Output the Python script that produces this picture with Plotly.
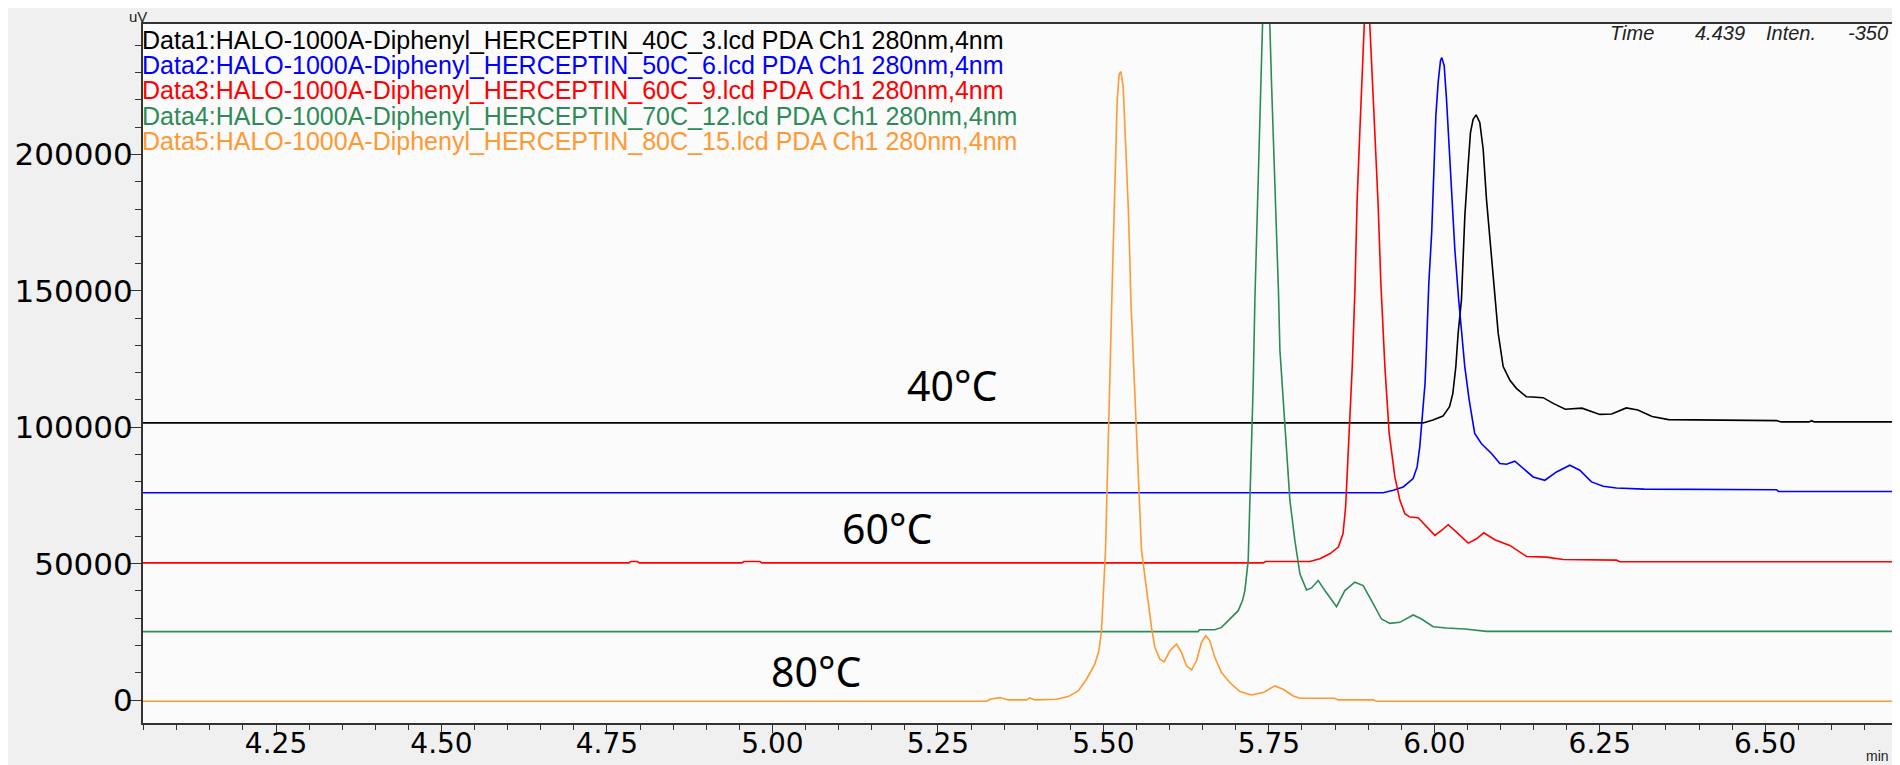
import plotly.graph_objects as go

# ---- data (time in min, intensity in uV) ----
t1 = [4.040, 5.983, 5.998, 6.013, 6.023, 6.028, 6.0325, 6.036, 6.041, 6.0461, 6.051, 6.0546, 6.0586, 6.0632, 6.0687,
      6.0738, 6.0788, 6.0838, 6.0914, 6.0965, 6.104, 6.114, 6.124, 6.139, 6.1476, 6.1645, 6.1796, 6.1978, 6.223, 6.250,
      6.268, 6.290, 6.3075, 6.329, 6.354, 6.517, 6.524, 6.566, 6.570, 6.574, 6.71]
v1 = [101600, 101600, 102630, 104100, 107540, 112440, 122240, 134490, 146750, 177380, 195760, 208010, 212900, 214510, 211690,
      201890, 183510, 168800, 146750, 134490, 122240, 117340, 114270, 111210, 111100, 110850, 108760, 106600, 107000, 104720,
      104850, 107100, 106350, 103920, 102820, 102450, 101970, 101970, 102400, 101970, 101970]

t2 = [4.040, 5.9228, 5.938, 5.953, 5.968, 5.974, 5.978, 5.982, 5.986, 5.988, 5.9917, 5.996, 5.9993, 6.0023, 6.0058, 6.0093,
      6.0113, 6.0149, 6.0184, 6.0219, 6.0259, 6.031, 6.0368, 6.041, 6.046, 6.0527, 6.061, 6.071, 6.0864, 6.099, 6.109, 6.1216,
      6.1342, 6.1493, 6.167, 6.1846, 6.2047, 6.2198, 6.2375, 6.255, 6.2752, 6.317, 6.517, 6.52, 6.71]
v2 = [76000, 76000, 76900, 78130, 81190, 85480, 92830, 103860, 116120, 128370, 152880, 171250, 195760, 214140, 226390, 234360,
      235460, 232520, 220270, 205560, 187180, 165130, 146750, 134490, 122240, 109990, 97740, 94060, 90380, 86710, 86460, 87560,
      84870, 81810, 80580, 83640, 86100, 84260, 79970, 78370, 77760, 77340, 77100, 76490, 76490]

t3 = [4.040, 4.783, 4.786, 4.796, 4.799, 4.954, 4.957, 4.981, 4.984, 5.7415, 5.745, 5.812, 5.827, 5.842, 5.855, 5.862, 5.866,
      5.869, 5.8725, 5.876, 5.880, 5.8834, 5.8874, 5.8910, 5.8935, 5.898, 5.9026, 5.9061, 5.9101, 5.9152, 5.9192, 5.9253,
      5.9318, 5.9404, 5.948, 5.9555, 5.963, 5.9756, 5.9882, 6.0008, 6.0109, 6.021, 6.0335, 6.0512, 6.0638, 6.0748, 6.0914,
      6.1141, 6.1393, 6.1695, 6.1947, 6.2752, 6.2802, 6.71]
v3 = [50300, 50300, 50800, 50800, 50300, 50300, 50800, 50800, 50300, 50300, 50800, 50800, 51790, 53630, 56080, 60970, 70770,
      85480, 103860, 122240, 150000, 183510, 208010, 228840, 247220, 270000, 247220, 226390, 208010, 181060, 152880, 122240,
      97740, 81810, 73230, 68330, 67100, 66860, 63430, 60370, 62200, 64290, 61590, 57550, 59140, 61340, 58770,
      56690, 52640, 52400, 51540, 51300, 50690, 50690]

t4 = [4.040, 5.6432, 5.645, 5.6684, 5.6785, 5.691, 5.7037, 5.7102, 5.7137, 5.7188, 5.7213, 5.7239, 5.7264, 5.7289, 5.7324,
      5.7354, 5.7374, 5.7404, 5.746, 5.7515, 5.754, 5.7576, 5.7616, 5.7646, 5.7667, 5.7717, 5.7767, 5.7818, 5.7893, 5.7969,
      5.8069, 5.8145, 5.8246, 5.8346, 5.8523, 5.8648, 5.8799, 5.8925, 5.9051, 5.9202, 5.9328, 5.9479, 5.968, 5.9807, 5.9983,
      6.0184, 6.046, 6.0789, 6.71]
v4 = [25100, 25100, 25800, 25800, 26660, 29730, 32790, 36470, 40000, 51170, 73230, 91610, 116120, 146750, 177380,
      208010, 228840, 247220, 268000, 247220, 226390, 201890, 171250, 149200, 128370, 109990, 91610, 73230, 58520, 46270,
      40390, 41120, 43820, 40150, 34260, 40150, 43210, 41980, 36470, 29730, 28140, 28510, 31200, 29730, 26910,
      26420, 26050, 25200, 25200]

t5 = [4.040, 5.3235, 5.3285, 5.3436, 5.3562, 5.384, 5.389, 5.3965, 5.4292, 5.4468, 5.462, 5.4745, 5.487, 5.4932, 5.4972,
      5.4997, 5.5012, 5.5032, 5.5134, 5.5164, 5.5184, 5.5209, 5.5239, 5.5264, 5.5300, 5.5325, 5.5350, 5.5375, 5.5400, 5.5415,
      5.5576, 5.5652, 5.5727, 5.5778, 5.5853, 5.5919, 5.6004, 5.6105, 5.618, 5.6256, 5.6332, 5.6407, 5.6482, 5.6548, 5.6608,
      5.6684, 5.6785, 5.691, 5.7062, 5.7238, 5.7414, 5.7590, 5.7716, 5.7868, 5.7968, 5.8497, 5.8547, 5.9076, 5.9127, 6.71]
v5 = [-400, -400, 320, 930, 80, 80, 810, 80, 320, 1300, 3380, 7670, 13190, 18090, 25440,
      36470, 47500, 54850, 152880, 177380, 201890, 220270, 229460, 230320, 224560, 211690, 195760, 181060, 161450, 146750,
      54850, 40140, 26660, 19310, 15020, 14040, 18090, 20540, 17470, 12570, 11100, 14410, 21150, 23600, 21760,
      15640, 10120, 6450, 3140, 1910, 2770, 5220, 4000, 1550, 690, 690, 80, 80, -400, -400]

names = [
    "Data1:HALO-1000A-Diphenyl_HERCEPTIN_40C_3.lcd PDA Ch1 280nm,4nm",
    "Data2:HALO-1000A-Diphenyl_HERCEPTIN_50C_6.lcd PDA Ch1 280nm,4nm",
    "Data3:HALO-1000A-Diphenyl_HERCEPTIN_60C_9.lcd PDA Ch1 280nm,4nm",
    "Data4:HALO-1000A-Diphenyl_HERCEPTIN_70C_12.lcd PDA Ch1 280nm,4nm",
    "Data5:HALO-1000A-Diphenyl_HERCEPTIN_80C_15.lcd PDA Ch1 280nm,4nm",
]
colors = ["#000000", "#0000ff", "#ff0000", "#2e8b57", "#ff9933"]
series = [(t1, v1), (t2, v2), (t3, v3), (t4, v4), (t5, v5)]

temp_labels = ["40°C", "60°C", "80°C"]
temp_x = [5.271, 5.173, 5.066]
temp_y = [115650, 62930, 10730]

x_range = [4.049, 6.693]
y_range = [-8380, 247800]

fig = go.Figure()
for (tt, vv), c, n in zip(series, colors, names):
    fig.add_trace(go.Scatter(x=tt, y=vv, mode="lines", name=n,
                             line=dict(color=c, width=1.6), showlegend=False))

ann = []
leg_y = [0.9771, 0.9410, 0.9050, 0.8689, 0.8329]
for n, c, yy in zip(names, colors, leg_y):
    ann.append(dict(xref="paper", yref="paper", x=-0.002, y=yy, xanchor="left", yanchor="middle",
                    text=n, showarrow=False, font=dict(family="Liberation Sans", size=25, color=c)))
for s, xx, yy in zip(temp_labels, temp_x, temp_y):
    ann.append(dict(x=xx, y=yy, text=s, showarrow=False, xanchor="center", yanchor="middle",
                    font=dict(family="Noto Sans", size=41, color="#000000")))
info_font = dict(family="Liberation Sans", size=20, color="#222222")
info_y = 0.9876
ann.append(dict(xref="paper", yref="paper", x=0.8371, y=info_y, xanchor="left", yanchor="middle",
                text="<i>Time</i>", showarrow=False, font=info_font))
ann.append(dict(xref="paper", yref="paper", x=0.8857, y=info_y, xanchor="left", yanchor="middle",
                text="<i>4.439</i>", showarrow=False, font=info_font))
ann.append(dict(xref="paper", yref="paper", x=0.9265, y=info_y, xanchor="left", yanchor="middle",
                text="<i>Inten.</i>", showarrow=False, font=info_font))
ann.append(dict(xref="paper", yref="paper", x=0.9983, y=info_y, xanchor="right", yanchor="middle",
                text="<i>-350</i>", showarrow=False, font=info_font))
ann.append(dict(xref="paper", yref="paper", x=-0.003, y=1.011, xanchor="center", yanchor="middle",
                text="uV", showarrow=False, font=dict(family="Liberation Sans", size=15, color="#222222")))
ann.append(dict(xref="paper", yref="paper", x=0.991, y=-0.047, xanchor="center", yanchor="middle",
                text="min", showarrow=False, font=dict(family="Liberation Sans", size=14, color="#222222")))

# the page body adds an 8 px offset, so the figure is sized to fit the 1900x765 window
fig.update_layout(
    width=1892, height=757,
    margin=dict(l=135, r=7, t=16, b=42, autoexpand=False),
    paper_bgcolor="#f0f0f0", plot_bgcolor="#fbfbfb",
    annotations=ann,
    xaxis=dict(range=x_range, tick0=4.25, dtick=0.25, tickformat=".2f", showgrid=False, zeroline=False,
               automargin=False, ticklabelstandoff=-14,
               showline=True, linecolor="#333333", linewidth=2, mirror=True,
               ticks="outside", ticklen=8, tickcolor="#333333",
               minor=dict(dtick=0.05, tick0=4.0, ticks="outside", ticklen=5, tickcolor="#333333"),
               tickfont=dict(family="DejaVu Sans", size=28, color="#000000")),
    yaxis=dict(range=y_range, tick0=0, dtick=50000, tickformat="d", showgrid=False, zeroline=False,
               automargin=False, ticklabelstandoff=-10,
               showline=True, linecolor="#333333", linewidth=2, mirror=True,
               ticks="outside", ticklen=12, tickcolor="#333333",
               minor=dict(dtick=10000, tick0=0, ticks="outside", ticklen=6, tickcolor="#333333"),
               tickfont=dict(family="DejaVu Sans", size=31, color="#000000")),
)

fig.write_html("out.html")
